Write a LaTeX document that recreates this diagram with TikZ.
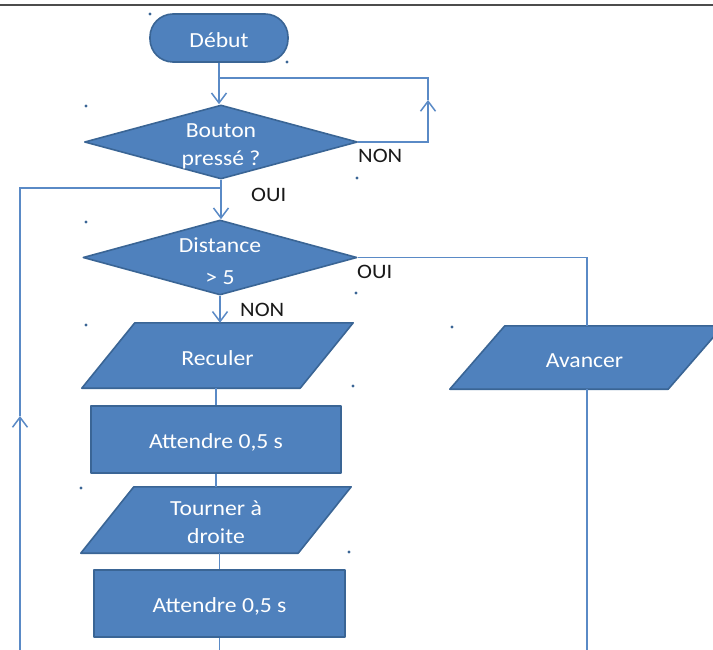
\documentclass[tikz,border=0pt]{standalone}
\usepackage{fontspec}
\setmainfont{Carlito}[FakeStretch=1.1]
\usetikzlibrary{arrows.meta,shapes.geometric}
\definecolor{fillb}{HTML}{4F81BD}
\definecolor{edgeb}{HTML}{3A6595}
\definecolor{lineb}{HTML}{5A8AC6}
\pgfdeclarelayer{bg}
\pgfsetlayers{bg,main}
\begin{document}
\begin{tikzpicture}[x=1pt,y=-1pt,
  shp/.style={fill=fillb, draw=edgeb, line width=1.6pt, line join=round, inner sep=0pt},
  box/.style={inner sep=0pt},
  txt/.style={inner sep=0pt, text=white, font=\fontsize{21.5}{28}\selectfont, align=center, yshift=-2.5pt},
  conn/.style={draw=lineb, line width=1.5pt},
  arr/.style={conn, -{Straight Barb[length=10pt,width=15pt,line width=1.5pt]}},
  lbl/.style={font=\fontsize{20.5}{24}\selectfont, text=black!90, inner sep=0pt, anchor=west},
  dotm/.style={fill=edgeb, draw=none}
]
\clip (0,0) rectangle (713,650);
\draw[line width=1.5pt, color=black!70] (0,5) -- (713,5);

% shapes
\node[shp, rounded corners=23pt, minimum width=138pt, minimum height=48pt] (debut) at (219,38) {};
\node[shp, shape=diamond, aspect=3.7, minimum width=273pt, minimum height=74pt] (bouton) at (221,142) {};
\node[shp, shape=diamond, aspect=3.7, minimum width=274pt, minimum height=75pt] (distance) at (220,257.5) {};
\node[box, minimum width=271pt, minimum height=65pt] (reculer) at (217.5,355.5) {};
\node[shp, minimum width=250pt, minimum height=67pt] (att1) at (216,439.5) {};
\node[box, minimum width=270pt, minimum height=66pt] (tourner) at (216,520) {};
\node[shp, minimum width=251pt, minimum height=67pt] (att2) at (219.5,603.5) {};
\node[box, minimum width=273pt, minimum height=63pt] (avancer) at (586.5,357.5) {};

\begin{pgfonlayer}{bg}
\draw[shp] ([xshift=53pt]reculer.north west) -- (reculer.north east) -- ([xshift=-53pt]reculer.south east) -- (reculer.south west) -- cycle;
\draw[shp] ([xshift=53pt]tourner.north west) -- (tourner.north east) -- ([xshift=-53pt]tourner.south east) -- (tourner.south west) -- cycle;
\draw[shp] ([xshift=55pt]avancer.north west) -- (avancer.north east) -- ([xshift=-55pt]avancer.south east) -- (avancer.south west) -- cycle;
\end{pgfonlayer}

% texts
\node[txt] (debutT) at (debut) {Début};
\node[txt, yshift=-1.5pt] (boutonT) at (bouton) {Bouton\\pressé ?};
\node[txt, font=\fontsize{21.5}{32}\selectfont, yshift=-1.5pt] (distanceT) at (distance) {Distance\\> 5};
\node[txt] (reculerT) at (reculer) {Reculer};
\node[txt] (att1T) at (att1) {Attendre 0,5 s};
\node[txt] (tournerT) at (tourner) {Tourner à\\droite};
\node[txt] (att2T) at (att2) {Attendre 0,5 s};
\node[txt, xshift=-2pt, yshift=-1pt] (avancerT) at (avancer) {Avancer};

% coordinates
\coordinate (j1) at (219,78);
\coordinate (rc1) at (428,142);
\coordinate (rc2) at (428,100);
\coordinate (rc3) at (428,78);
\coordinate (j2) at (221,188);
\coordinate (lc1) at (20,188);
\coordinate (lc2) at (20,416);
\coordinate (lc3) at (20,650);
\coordinate (rt) at (587,259);
\coordinate (avend) at (587,650);
\coordinate (att2end) at (219.5,650);

% connectors
\draw[arr] (debut.south) -- (debut.south |- bouton.north);
\draw[arr] (bouton.east) -- (rc1) -- (rc2);
\draw[conn] (rc2) -- (rc3) -- (j1);
\draw[arr] (bouton.south) -- (bouton.south |- distance.north);
\draw[arr] (lc3) -- (lc2);
\draw[conn] (lc2) -- (lc1) -- (j2);
\draw[conn] (distance.east) -- (distance.east -| rt) -- (avancer.north -| rt);
\draw[conn] (avancer.south -| rt) -- (avend);
\draw[arr] (distance.south) -- (distance.south |- reculer.north);
\draw[conn] (reculer.south -| att1) -- (att1.north);
\draw[conn] (att1.south) -- (att1.south |- tourner.north);
\draw[conn] (tourner.south -| att2) -- (att2.north);
\draw[conn] (att2.south) -- (att2end);

% labels
\node[lbl] (l1) at (251,195) {OUI};
\node[lbl] (l2) at (358,156) {NON};
\node[lbl] (l3) at (357,272) {OUI};
\node[lbl] (l4) at (240,310) {NON};

% handle dots
\foreach \p in {(150,14),(287,62),(86,106),(357,178),(86,222),(356,293),(86,325),(452,327),(353,386),(81,488),(349,552)}
  \fill[dotm] \p circle (1.6pt);
\end{tikzpicture}
\end{document}
